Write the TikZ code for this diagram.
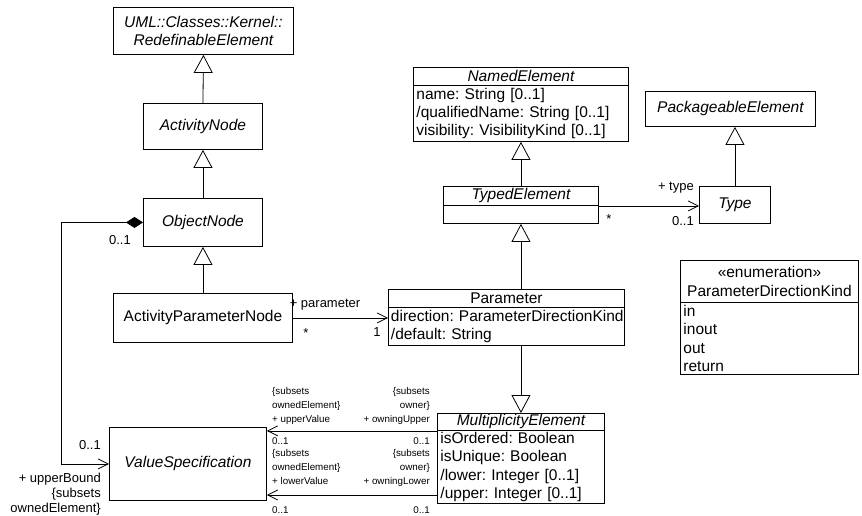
\documentclass[tikz,border=0pt]{standalone}
\usepackage{fontspec}
\setmainfont{Liberation Sans}
\usetikzlibrary{arrows.meta}
\newcommand\umlfont{\fontsize{15.5}{18.4}\selectfont\frenchspacing\hyphenpenalty=10000 }
\newcommand\rolefont{\fontsize{13}{15}\selectfont\frenchspacing}
\newcommand\smallrolefont{\fontsize{9.8}{14}\selectfont\frenchspacing}

\begin{document}
\begin{tikzpicture}[x=1pt,y=-1pt,
  umlbox/.style={draw, line width=0.9pt, inner sep=0pt, anchor=north west, font=\umlfont, fill=white},
  umltitle/.style={umlbox, font=\umlfont\itshape},
  umlcomp/.style={umlbox, align=left, inner xsep=3pt},
  umlgen/.style={line width=0.8pt, -{Triangle[open,length=18pt,width=19pt,fill=white]}},
  umlnav/.style={line width=0.8pt, -{Straight Barb[length=10pt,width=10pt]}},
  umlrole/.style={font=\rolefont, inner sep=0pt},
  umlsmall/.style={font=\smallrolefont, inner sep=0pt},
]
\useasboundingbox (0,0) rectangle (862,516);

% --- activity side ---
\node[umltitle, minimum width=180pt, minimum height=47pt, align=center] (redef) at (113,7) {UML::Classes::Kernel::\\RedefinableElement};
\node[umltitle, minimum width=119pt, minimum height=46pt] (actnode) at (143,103) {ActivityNode};
\node[umltitle, minimum width=119pt, minimum height=48pt] (objnode) at (143,198) {ObjectNode};
\node[umlbox, minimum width=179pt, minimum height=49pt] (apn) at (113,293) {ActivityParameterNode};

% --- kernel classes ---
\node[umltitle, minimum width=215pt, minimum height=18pt] (namedhead) at (413,67) {NamedElement};
\node[umlcomp, text width=209pt, minimum height=56pt] (namedbody) at (413,85) {name: String [0..1]\\/qualifiedName: String [0..1]\\visibility: VisibilityKind [0..1]};

\node[umltitle, minimum width=155pt, minimum height=19pt] (typedhead) at (443,186) {TypedElement};
\node[umlbox, minimum width=155pt, minimum height=18pt] (typedbody) at (443,205) {};

\node[umltitle, minimum width=71pt, minimum height=37pt] (type) at (699,186) {Type};
\node[umltitle, minimum width=170pt, minimum height=35pt] (pack) at (645,91) {PackageableElement};

\node[umlbox, minimum width=236pt, minimum height=18pt] (paramhead) at (388,289) {Parameter};
\node[umlcomp, text width=231pt, inner xsep=2.5pt, minimum height=38pt] (parambody) at (388,307) {direction:~ParameterDirectionKind\\/default:~String};

\node[umlbox, minimum width=178pt, minimum height=42pt, align=center] (enumhead) at (680,260) {«enumeration»\\ParameterDirectionKind};
\node[umlcomp, text width=172pt, minimum height=72pt] (enumbody) at (680,302) {in\\inout\\out\\return};

\node[umltitle, minimum width=167pt, minimum height=17pt] (multhead) at (437,413) {MultiplicityElement};
\node[umlcomp, text width=161pt, minimum height=73pt] (multbody) at (437,430) {isOrdered: Boolean\\isUnique: Boolean\\/lower: Integer [0..1]\\/upper: Integer [0..1]};

\node[umltitle, minimum width=157pt, minimum height=73pt] (valspec) at (109,427) {ValueSpecification};

% --- generalizations ---
\draw[umlgen] (actnode.north) -- (redef.south);
\draw[umlgen] (objnode.north) -- (actnode.south);
\draw[umlgen] (apn.north) -- (objnode.south);
\draw[umlgen] (typedhead.north) -- (namedbody.south);
\draw[umlgen] (paramhead.north -| typedbody.south) -- (typedbody.south);
\draw[umlgen] (parambody.south -| multhead.north) -- (multhead.north);
\draw[umlgen] (type.north) -- (type.north |- pack.south);

% --- associations ---
\draw[umlnav] (typedhead.south east) -- (typedhead.south east -| type.west);
\draw[umlnav] (apn.east) -- (apn.east -| parambody.west);
\draw[umlnav] (multhead.south west) -- (multhead.south west -| valspec.east);
\coordinate (lowend) at (437,495);
\draw[umlnav] (lowend) -- (lowend -| valspec.east);
\draw[line width=0.8pt, {Diamond[length=17pt,width=11pt,fill=black]}-{Straight Barb[length=10pt,width=10pt]}]
  (objnode.west) -- ++(-82,0) |- (valspec.west);

% --- association end labels ---
\node[umlrole] (lblparam) at (325,305) {+ parameter};
\node[umlrole] (lblparammany) at (306,333) {*};
\node[umlrole] (lblparamone) at (377,332) {1};
\node[umlrole, anchor=east] (lbltype) at (694,188) {+ type};
\node[umlrole, anchor=east] (lbltypemult) at (694,221) {0..1};
\node[umlrole] (lbltypemany) at (609,219) {*};
\node[umlrole, anchor=east] (lblowner) at (131,240) {0..1};
\node[umlrole, anchor=east] (lblubmult) at (101,445) {0..1};
\node[umlrole, anchor=north east, align=right] (lblub) at (101,473) {+ upperBound\\\{subsets\\ownedElement\}};

\node[umlsmall, anchor=north west, align=left] (uvrole) at (272,387) {\{subsets\\ownedElement\}\\+ upperValue};
\node[umlsmall, anchor=north east, align=right] (ourole) at (430,387) {\{subsets\\owner\}\\+ owningUpper};
\node[umlsmall, anchor=west] (uvmult) at (272,441) {0..1};
\node[umlsmall, anchor=east] (oumult) at (430,441) {0..1};
\node[umlsmall, anchor=north west, align=left] (lvrole) at (272,449) {\{subsets\\ownedElement\}\\+ lowerValue};
\node[umlsmall, anchor=north east, align=right] (olrole) at (430,449) {\{subsets\\owner\}\\+ owningLower};
\node[umlsmall, anchor=west] (lvmult) at (272,510) {0..1};
\node[umlsmall, anchor=east] (olmult) at (430,510) {0..1};
\end{tikzpicture}
\end{document}
